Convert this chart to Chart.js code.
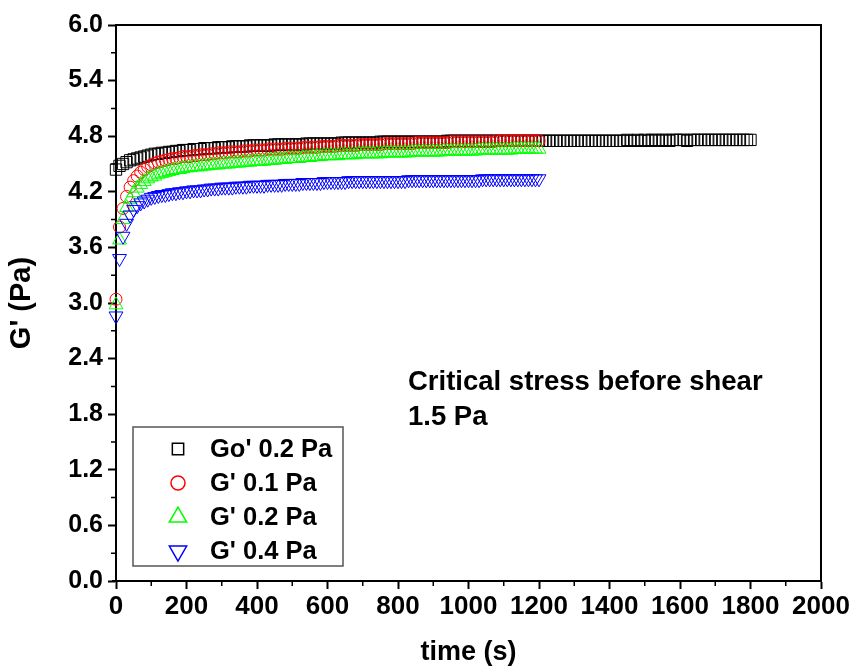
<!DOCTYPE html>
<html>
<head>
<meta charset="utf-8">
<script src="https://cdn.jsdelivr.net/npm/chart.js@4.4.1/dist/chart.umd.min.js"></script>
<style>
html, body { margin: 0; padding: 0; background: #fff; }
</style>
</head>
<body>
<canvas id="chart" width="853" height="666"></canvas>
<script>
// sample times (s), one reading every 10 s
const times = [
    0, 10, 20, 30, 40, 50, 60, 70, 80, 90,
    100, 110, 120, 130, 140, 150, 160, 170, 180, 190,
    200, 210, 220, 230, 240, 250, 260, 270, 280, 290,
    300, 310, 320, 330, 340, 350, 360, 370, 380, 390,
    400, 410, 420, 430, 440, 450, 460, 470, 480, 490,
    500, 510, 520, 530, 540, 550, 560, 570, 580, 590,
    600, 610, 620, 630, 640, 650, 660, 670, 680, 690,
    700, 710, 720, 730, 740, 750, 760, 770, 780, 790,
    800, 810, 820, 830, 840, 850, 860, 870, 880, 890,
    900, 910, 920, 930, 940, 950, 960, 970, 980, 990,
    1000, 1010, 1020, 1030, 1040, 1050, 1060, 1070, 1080, 1090,
    1100, 1110, 1120, 1130, 1140, 1150, 1160, 1170, 1180, 1190,
    1200, 1210, 1220, 1230, 1240, 1250, 1260, 1270, 1280, 1290,
    1300, 1310, 1320, 1330, 1340, 1350, 1360, 1370, 1380, 1390,
    1400, 1410, 1420, 1430, 1440, 1450, 1460, 1470, 1480, 1490,
    1500, 1510, 1520, 1530, 1540, 1550, 1560, 1570, 1580, 1590,
    1600, 1610, 1620, 1630, 1640, 1650, 1660, 1670, 1680, 1690,
    1700, 1710, 1720, 1730, 1740, 1750, 1760, 1770, 1780, 1790,
    1800
];

const seriesLabels = ["Go' 0.2 Pa", "G' 0.1 Pa", "G' 0.2 Pa", "G' 0.4 Pa"];

// Go' 0.2 Pa, 0..1800 s
const go02 = [
    4.44, 4.48, 4.50, 4.52, 4.54, 4.55, 4.56, 4.57, 4.58, 4.59,
    4.60, 4.61, 4.61, 4.62, 4.62, 4.63, 4.63, 4.64, 4.64, 4.65,
    4.65, 4.65, 4.66, 4.66, 4.66, 4.67, 4.67, 4.67, 4.67, 4.68,
    4.68, 4.68, 4.68, 4.69, 4.69, 4.69, 4.69, 4.69, 4.70, 4.70,
    4.70, 4.70, 4.70, 4.70, 4.70, 4.71, 4.71, 4.71, 4.71, 4.71,
    4.71, 4.71, 4.71, 4.71, 4.72, 4.72, 4.72, 4.72, 4.72, 4.72,
    4.72, 4.72, 4.72, 4.72, 4.73, 4.73, 4.73, 4.73, 4.73, 4.73,
    4.73, 4.73, 4.73, 4.73, 4.73, 4.74, 4.74, 4.74, 4.74, 4.74,
    4.74, 4.74, 4.74, 4.74, 4.74, 4.74, 4.74, 4.74, 4.74, 4.74,
    4.74, 4.74, 4.74, 4.74, 4.75, 4.75, 4.75, 4.75, 4.75, 4.75,
    4.75, 4.75, 4.75, 4.75, 4.75, 4.75, 4.75, 4.75, 4.75, 4.75,
    4.75, 4.75, 4.75, 4.75, 4.75, 4.75, 4.75, 4.75, 4.75, 4.75,
    4.75, 4.75, 4.75, 4.75, 4.75, 4.75, 4.75, 4.75, 4.75, 4.75,
    4.75, 4.75, 4.75, 4.75, 4.75, 4.75, 4.75, 4.75, 4.75, 4.75,
    4.75, 4.75, 4.75, 4.75, 4.75, 4.76, 4.75, 4.75, 4.76, 4.75,
    4.76, 4.75, 4.76, 4.76, 4.75, 4.76, 4.76, 4.75, 4.76, 4.76,
    4.76, 4.76, 4.75, 4.76, 4.76, 4.76, 4.76, 4.76, 4.76, 4.76,
    4.76, 4.76, 4.76, 4.76, 4.76, 4.76, 4.76, 4.76, 4.76, 4.76,
    4.76
];

// G' 0.1 Pa, 0..1200 s
const g01 = [
    3.04, 3.82, 4.02, 4.15, 4.25, 4.32, 4.37, 4.41, 4.44, 4.47,
    4.49, 4.51, 4.52, 4.53, 4.54, 4.55, 4.56, 4.56, 4.57, 4.58,
    4.58, 4.58, 4.59, 4.59, 4.60, 4.60, 4.60, 4.61, 4.61, 4.62,
    4.62, 4.62, 4.63, 4.63, 4.63, 4.63, 4.64, 4.64, 4.64, 4.65,
    4.65, 4.65, 4.65, 4.66, 4.66, 4.66, 4.66, 4.66, 4.67, 4.67,
    4.67, 4.67, 4.67, 4.68, 4.68, 4.68, 4.68, 4.68, 4.69, 4.69,
    4.69, 4.69, 4.69, 4.70, 4.70, 4.70, 4.70, 4.70, 4.70, 4.71,
    4.71, 4.71, 4.71, 4.71, 4.71, 4.71, 4.72, 4.72, 4.72, 4.72,
    4.72, 4.72, 4.72, 4.72, 4.72, 4.73, 4.73, 4.73, 4.73, 4.73,
    4.73, 4.73, 4.73, 4.73, 4.73, 4.74, 4.74, 4.74, 4.74, 4.74,
    4.74, 4.74, 4.74, 4.74, 4.74, 4.74, 4.74, 4.74, 4.75, 4.75,
    4.75, 4.75, 4.75, 4.75, 4.75, 4.75, 4.75, 4.75, 4.75, 4.75,
    4.75
];

// G' 0.2 Pa, 0..1200 s
const g02 = [
    2.98, 3.68, 3.90, 4.03, 4.12, 4.19, 4.24, 4.28, 4.31, 4.34,
    4.36, 4.37, 4.39, 4.40, 4.41, 4.42, 4.43, 4.44, 4.44, 4.45,
    4.46, 4.46, 4.47, 4.47, 4.47, 4.48, 4.48, 4.49, 4.49, 4.49,
    4.50, 4.50, 4.50, 4.51, 4.51, 4.51, 4.52, 4.52, 4.52, 4.53,
    4.53, 4.53, 4.53, 4.54, 4.54, 4.54, 4.55, 4.55, 4.55, 4.56,
    4.56, 4.56, 4.56, 4.57, 4.57, 4.57, 4.58, 4.58, 4.58, 4.59,
    4.59, 4.59, 4.59, 4.59, 4.60, 4.60, 4.60, 4.60, 4.60, 4.61,
    4.61, 4.61, 4.61, 4.61, 4.61, 4.61, 4.62, 4.62, 4.62, 4.62,
    4.62, 4.62, 4.62, 4.62, 4.63, 4.63, 4.63, 4.63, 4.63, 4.63,
    4.63, 4.63, 4.63, 4.64, 4.64, 4.64, 4.64, 4.64, 4.64, 4.64,
    4.64, 4.64, 4.64, 4.65, 4.65, 4.65, 4.65, 4.65, 4.65, 4.65,
    4.65, 4.65, 4.65, 4.66, 4.66, 4.66, 4.66, 4.66, 4.66, 4.66,
    4.66
];

// G' 0.4 Pa, 0..1200 s
const g04 = [
    2.86, 3.48, 3.72, 3.86, 3.95, 4.01, 4.05, 4.08, 4.10, 4.12,
    4.14, 4.15, 4.16, 4.17, 4.17, 4.18, 4.19, 4.19, 4.20, 4.20,
    4.21, 4.21, 4.22, 4.22, 4.22, 4.23, 4.23, 4.24, 4.24, 4.24,
    4.25, 4.25, 4.25, 4.25, 4.26, 4.26, 4.26, 4.26, 4.27, 4.27,
    4.27, 4.27, 4.27, 4.28, 4.28, 4.28, 4.28, 4.28, 4.29, 4.29,
    4.29, 4.29, 4.29, 4.30, 4.30, 4.30, 4.30, 4.30, 4.30, 4.31,
    4.31, 4.31, 4.31, 4.31, 4.31, 4.31, 4.32, 4.32, 4.32, 4.32,
    4.32, 4.32, 4.32, 4.32, 4.32, 4.32, 4.32, 4.32, 4.32, 4.32,
    4.32, 4.32, 4.32, 4.33, 4.33, 4.33, 4.33, 4.33, 4.33, 4.33,
    4.33, 4.33, 4.33, 4.33, 4.33, 4.33, 4.33, 4.33, 4.33, 4.33,
    4.33, 4.33, 4.33, 4.33, 4.34, 4.34, 4.34, 4.34, 4.34, 4.34,
    4.34, 4.34, 4.34, 4.34, 4.34, 4.34, 4.34, 4.34, 4.34, 4.34,
    4.34
];

const xTicks = [0, 200, 400, 600, 800, 1000, 1200, 1400, 1600, 1800, 2000];
const yTicks = [0.0, 0.6, 1.2, 1.8, 2.4, 3.0, 3.6, 4.2, 4.8, 5.4, 6.0];
const noteLines = ['Critical stress before shear', '1.5 Pa'];

function toPoints(values) {
    return values.map((v, i) => ({ x: times[i], y: v }));
}

const FONT = "'Liberation Sans', Arial, sans-serif";
Chart.defaults.font.family = FONT;
Chart.defaults.font.weight = 'bold';
Chart.defaults.color = '#000';

// frame, minor ticks, note text and the boxed legend
const extras = {
    id: 'extras',
    afterDraw(chart) {
        const ctx = chart.ctx;
        const a = chart.chartArea;
        const xs = chart.scales.x;
        const ys = chart.scales.y;
        ctx.save();
        ctx.strokeStyle = '#000';
        ctx.lineWidth = 2;
        ctx.beginPath();
        ctx.moveTo(a.left, a.top);
        ctx.lineTo(a.right, a.top);
        ctx.lineTo(a.right, a.bottom);
        ctx.moveTo(a.left - 4, a.bottom);
        ctx.lineTo(a.left, a.bottom);
        ctx.stroke();

        ctx.lineWidth = 1.5;
        ctx.beginPath();
        for (let i = 0; i < xTicks.length - 1; i++) {
            const px = xs.getPixelForValue((xTicks[i] + xTicks[i + 1]) / 2);
            ctx.moveTo(px, a.bottom);
            ctx.lineTo(px, a.bottom + 5);
        }
        for (let i = 0; i < yTicks.length - 1; i++) {
            const py = ys.getPixelForValue((yTicks[i] + yTicks[i + 1]) / 2);
            ctx.moveTo(a.left, py);
            ctx.lineTo(a.left - 5, py);
        }
        ctx.stroke();

        ctx.fillStyle = '#000';
        ctx.font = 'bold 27.5px ' + FONT;
        ctx.textAlign = 'left';
        ctx.textBaseline = 'middle';
        ctx.fillText(noteLines[0], 408, 382);
        ctx.fillText(noteLines[1], 408, 417);

        // legend box
        ctx.strokeStyle = '#555';
        ctx.lineWidth = 1.5;
        ctx.strokeRect(133, 427, 210, 139);
        const rows = [449, 483, 517, 551];
        chart.data.datasets.forEach((ds, i) => {
            ctx.save();
            ctx.strokeStyle = ds.borderColor;
            ctx.fillStyle = 'rgba(0,0,0,0)';
            Chart.helpers.drawPoint(ctx, {
                pointStyle: ds.pointStyle,
                radius: ds.legendRadius,
                rotation: ds.pointRotation || 0,
                borderWidth: 1
            }, 178, rows[i]);
            ctx.restore();
            ctx.fillStyle = '#000';
            ctx.font = 'bold 25.5px ' + FONT;
            ctx.fillText(ds.label, 210, rows[i] + 1);
        });
        ctx.restore();
    }
};

new Chart(document.getElementById('chart'), {
    type: 'scatter',
    data: {
        datasets: [{
            label: seriesLabels[0],
            data: toPoints(go02),
            pointStyle: 'rect',
            pointRadius: 8,
            legendRadius: 8,
            borderColor: '#000000',
            backgroundColor: 'rgba(0,0,0,0)',
            borderWidth: 1,
            clip: false,
            order: 4
        }, {
            label: seriesLabels[1],
            data: toPoints(g01),
            pointStyle: 'circle',
            pointRadius: 6,
            legendRadius: 7,
            borderColor: '#ff0000',
            backgroundColor: 'rgba(0,0,0,0)',
            borderWidth: 1,
            clip: false,
            order: 3
        }, {
            label: seriesLabels[2],
            data: toPoints(g02),
            pointStyle: 'triangle',
            pointRadius: 8,
            legendRadius: 10,
            borderColor: '#00ff00',
            backgroundColor: 'rgba(0,0,0,0)',
            borderWidth: 1,
            clip: false,
            order: 2
        }, {
            label: seriesLabels[3],
            data: toPoints(g04),
            pointStyle: 'triangle',
            pointRotation: 180,
            rotation: 180,
            pointRadius: 8,
            legendRadius: 10,
            borderColor: '#0000ff',
            backgroundColor: 'rgba(0,0,0,0)',
            borderWidth: 1,
            clip: false,
            order: 1
        }]
    },
    options: {
        responsive: false,
        animation: false,
        events: [],
        layout: {
            padding: { top: 25, right: 32, left: 0, bottom: 0 }
        },
        plugins: {
            legend: { display: false },
            tooltip: { enabled: false }
        },
        scales: {
            x: {
                type: 'linear',
                min: 0,
                max: 2000,
                afterFit: function(scale) { scale.height = 85; },
                afterBuildTicks: function(scale) {
                    scale.ticks = xTicks.map(v => ({ value: v }));
                },
                ticks: {
                    font: { size: 26, weight: 'bold' },
                    padding: 2,
                    maxRotation: 0,
                    autoSkip: false,
                    callback: function(value) { return String(value); }
                },
                grid: {
                    drawOnChartArea: false,
                    tickLength: 8,
                    tickColor: '#000',
                    tickWidth: 2
                },
                border: { color: '#000', width: 2 },
                title: {
                    display: true,
                    text: 'time (s)',
                    font: { size: 27, weight: 'bold', lineHeight: 1.0 },
                    padding: { top: 0, bottom: 0 }
                }
            },
            y: {
                min: 0,
                max: 6,
                afterFit: function(scale) { scale.width = 116; },
                afterBuildTicks: function(scale) {
                    scale.ticks = yTicks.map(v => ({ value: v }));
                },
                ticks: {
                    font: { size: 25, weight: 'bold' },
                    padding: 5,
                    autoSkip: false,
                    callback: function(value) { return value.toFixed(1); }
                },
                grid: {
                    drawOnChartArea: false,
                    tickLength: 8,
                    tickColor: '#000',
                    tickWidth: 2
                },
                border: { color: '#000', width: 2 },
                title: {
                    display: true,
                    text: "G' (Pa)",
                    font: { size: 29, weight: 'bold', lineHeight: 1.2 },
                    padding: { top: 5, bottom: 0 }
                }
            }
        }
    },
    plugins: [extras]
});
</script>
</body>
</html>
